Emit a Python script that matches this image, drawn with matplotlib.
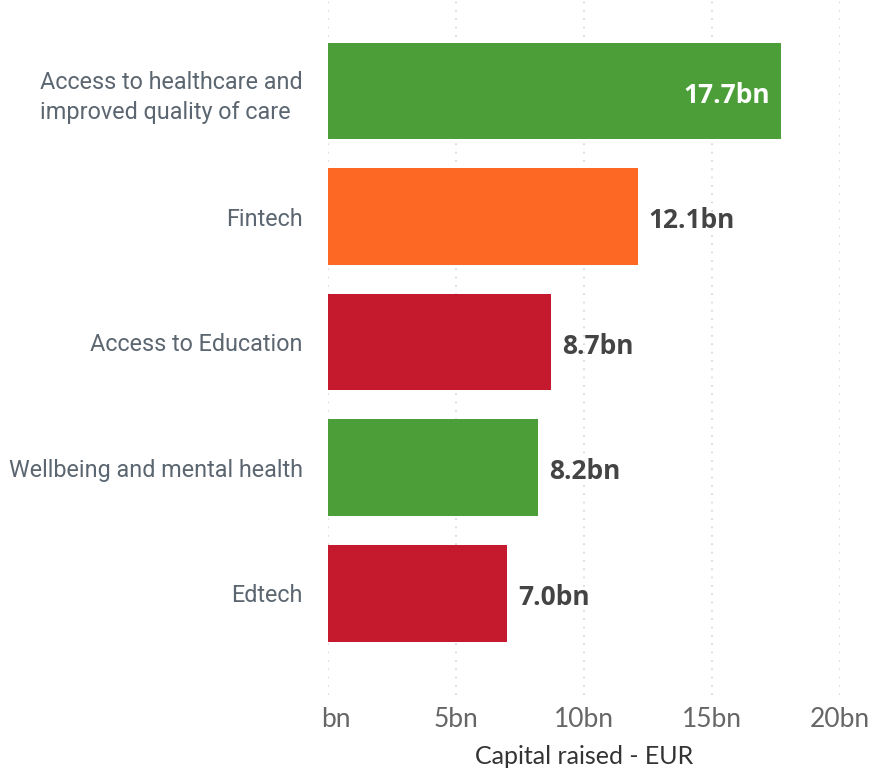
import matplotlib.pyplot as plt
from matplotlib.ticker import FixedLocator
from matplotlib.transforms import ScaledTranslation

categories = ["Access to healthcare and\nimproved quality of care", "Fintech",
              "Access to Education", "Wellbeing and mental health", "Edtech"]
values = [17.7, 12.1, 8.7, 8.2, 7.0]
bar_colors = ["#4c9f38", "#fd6925", "#c5192d", "#4c9f38", "#c5192d"]
xticks = [0, 5, 10, 15, 20]
xtick_labels = ["bn", "5bn", "10bn", "15bn", "20bn"]

fig = plt.figure(figsize=(8.72, 7.69), dpi=100)
ax = fig.add_axes([0.376, 0.0963, 0.587, 0.9037])

y = range(len(categories))
ax.barh(y, values, height=0.77, color=bar_colors, zorder=2)

ax.set_xlim(0, 20)
ax.set_ylim(4.81, -0.725)

for s in ax.spines.values():
    s.set_visible(False)

ax.xaxis.set_major_locator(FixedLocator(xticks))
ax.set_xticklabels(xtick_labels, fontsize=19, color="#666666", family="Lato")
ax.tick_params(axis="x", length=0, pad=9)
ax.grid(axis="x", color="#d4d4d4", linestyle=(0, (1, 4)), linewidth=1.2, zorder=0)
# the zero label sits a little right of its tick
zero = ax.get_xticklabels()[0]
zero.set_transform(zero.get_transform() + ScaledTranslation(0.08, 0, fig.dpi_scale_trans))

ax.set_yticks(list(y))
ax.set_yticklabels(categories, fontsize=16.8, color="#5b6670", family="Roboto",
                   linespacing=1.4)
for t in ax.get_yticklabels():
    t.set_multialignment("left")
ax.tick_params(axis="y", length=0, pad=18)

ax.set_xlabel("Capital raised - EUR", fontsize=18, color="#333333",
              family="Lato", labelpad=9)

for i, v in enumerate(values):
    label = f"{v:.1f}bn"
    if v > 15:
        ax.annotate(label, (v, i), xytext=(-8, -3), textcoords="offset points",
                    ha="right", va="center", fontsize=19, fontweight="bold",
                    color="white", family="Open Sans")
    else:
        ax.annotate(label, (v, i), xytext=(8, -3), textcoords="offset points",
                    ha="left", va="center", fontsize=19, fontweight="bold",
                    color="#444444", family="Open Sans")

fig.savefig("out.png", dpi=100)
